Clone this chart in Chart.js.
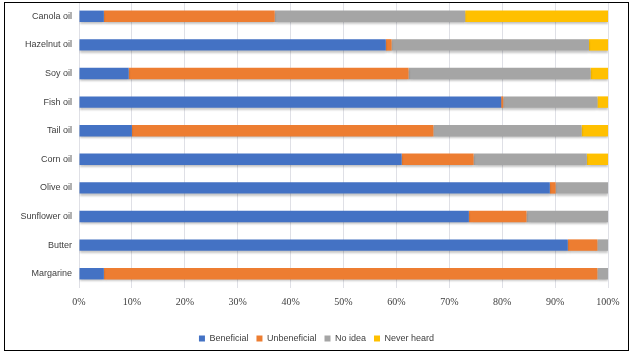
<!DOCTYPE html>
<html>
<head>
<meta charset="utf-8">
<script src="https://cdn.jsdelivr.net/npm/chart.js@4.4.1/dist/chart.umd.min.js"></script>
<style>
html,body{margin:0;padding:0;background:#fff;}
#wrap{position:relative;width:633px;height:355px;}
</style>
</head>
<body>
<div id="wrap"><canvas id="c" width="633" height="355"></canvas></div>
<script>
const categories = ["Canola oil","Hazelnut oil","Soy oil","Fish oil","Tail oil","Corn oil","Olive oil","Sunflower oil","Butter","Margarine"];
const beneficial   = [4.7, 58.0,  9.4, 79.8, 10.0, 61.0, 89.0, 73.7, 92.4,  4.7];
const unbeneficial = [32.3, 1.1, 52.9,  0.4, 57.0, 13.6,  1.1, 10.9,  5.6, 93.3];
const noIdea       = [36.0, 37.3, 34.4, 17.8, 28.0, 21.4,  9.9, 15.4,  2.0,  2.0];
const neverHeard   = [27.0, 3.6,  3.3,  2.0,  5.0,  4.0,  0.0,  0.0,  0.0,  0.0];
const seriesNames = ["Beneficial","Unbeneficial","No idea","Never heard"];
const xTicks = [0,10,20,30,40,50,60,70,80,90,100];

const colors = ["#4472C4","#ED7D31","#A5A5A5","#FFC000"];
const values = [beneficial, unbeneficial, noIdea, neverHeard];

const borderPlugin = {
  id:'borderPlugin',
  afterDraw(chart){
    const ctx = chart.ctx;
    ctx.save();
    ctx.strokeStyle = '#000';
    ctx.lineWidth = 1;
    ctx.strokeRect(4.5, 2.5, 624, 348);
    ctx.restore();
  }
};
const shadowPlugin = {
  id:'shadowPlugin',
  beforeDatasetsDraw(chart){
    const ctx = chart.ctx;
    ctx.save();
    ctx.shadowColor = 'rgba(0,0,0,0.22)';
    ctx.shadowBlur = 2;
    ctx.shadowOffsetX = 0;
    ctx.shadowOffsetY = 2;
  },
  afterDatasetsDraw(chart){
    chart.ctx.restore();
  }
};

new Chart(document.getElementById('c'), {
  type: 'bar',
  data: {
    labels: categories,
    datasets: seriesNames.map((n,i)=>({
      label: n,
      data: values[i],
      backgroundColor: colors[i],
      borderWidth: 0,
      categoryPercentage: 0.8,
      barPercentage: 0.5
    }))
  },
  options: {
    indexAxis: 'y',
    responsive: false,
    animation: false,
    layout: { autoPadding: false, padding: { top: 2, right: 0, bottom: 2, left: 0 } },
    scales: {
      x: {
        stacked: true,
        min: 0, max: 100,
        afterBuildTicks(s){ s.ticks = xTicks.map(v=>({value:v})); },
        grid: { color: '#dfe0e6', drawTicks: false, lineWidth: 1 },
        border: { display: false },
        ticks: {
          padding: 8,
          color: '#404040',
          font: { family: 'Liberation Serif', size: 10 },
          callback: v => v + '%'
        },
        afterFit(s){ s.height = 38; s.paddingLeft = 0; s.paddingRight = 0; }
      },
      y: {
        stacked: true,
        grid: { display: false, drawTicks: false },
        border: { display: false },
        ticks: {
          padding: 7,
          color: '#404040',
          font: { family: 'Liberation Sans', size: 9 }
        },
        afterFit(s){ s.width = 79; s.paddingTop = 0; s.paddingBottom = 0; }
      },
      yr: {
        type: 'linear',
        position: 'right',
        display: true,
        grid: { display: false, drawTicks: false },
        border: { display: false },
        ticks: { display: false },
        afterFit(s){ s.width = 25; s.paddingTop = 0; s.paddingBottom = 0; }
      }
    },
    plugins: {
      legend: {
        position: 'bottom',
        labels: {
          boxWidth: 6, boxHeight: 6, padding: 8,
          color: '#404040',
          font: { family: 'Liberation Sans', size: 9 }
        }
      },
      tooltip: { enabled: false }
    }
  },
  plugins: [shadowPlugin, borderPlugin]
});
</script>
</body>
</html>
